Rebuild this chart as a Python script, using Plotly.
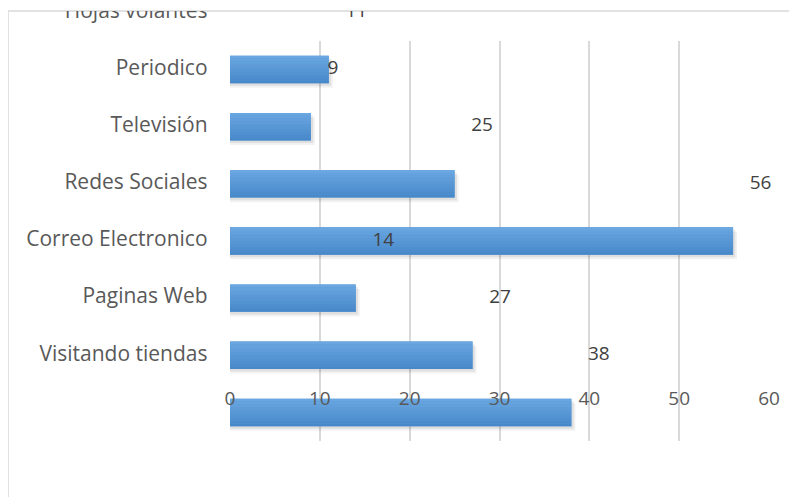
import plotly.graph_objects as go

categories = ["Hojas volantes", "Periodico", "Televisión", "Redes Sociales",
              "Correo Electronico", "Paginas Web", "Visitando tiendas"]
values = [11, 9, 25, 56, 14, 27, 38]
x_ticks = [0, 10, 20, 30, 40, 50, 60]

PAGE_OFF = 8  # default body margin of the html page
W, H = 797, 497
# target positions in screenshot pixels
border_left, border_top = 8, 11
paper_right = 797
plot_left, plot_right = 230, 769
plot_top, plot_bottom = 41, 441

ML = border_left - PAGE_OFF
MT = border_top - PAGE_OFF
MR = W - (paper_right - PAGE_OFF)
MB = H - (plot_bottom - PAGE_OFF)
paper_w = W - ML - MR
paper_h = H - MT - MB
x_min, x_max = 0, 60
px_per_unit = (plot_right - plot_left) / (x_max - x_min)
n = len(categories)
slot = (plot_bottom - plot_top) / n
x2_min = x_min - (plot_left - border_left) / px_per_unit
x2_max = x_max + (paper_right - plot_right) / px_per_unit
y2_top = -0.5 - (plot_top - border_top) / slot

slots = list(range(n))
label_slots = [i - 1 for i in slots]

BAR_W = 0.48


def bar(xs, color, width, offset):
    return go.Bar(x=xs, y=slots, orientation="h", width=width, offset=offset,
                  marker=dict(color=color, line=dict(width=0)),
                  hoverinfo="skip", showlegend=False, xaxis="x", yaxis="y")


fig = go.Figure()
# soft drop shadow
fig.add_trace(bar([v + 0.45 for v in values], "rgba(0,0,0,0.05)", BAR_W, -BAR_W / 2 + 0.08))
fig.add_trace(bar([v + 0.25 for v in values], "rgba(0,0,0,0.08)", BAR_W, -BAR_W / 2 + 0.045))
# solid base of each bar
fig.add_trace(bar(values, "#5597d6", BAR_W, -BAR_W / 2))
# smooth vertical gradient on top (style only)
top_rgb, bot_rgb = (106, 166, 224), (72, 137, 202)
STRIPS = 10
for k in range(STRIPS):
    t = k / (STRIPS - 1)
    c = tuple(round(a + (b - a) * t) for a, b in zip(top_rgb, bot_rgb))
    fig.add_trace(bar(values, "rgb(%d,%d,%d)" % c, BAR_W / STRIPS,
                      -BAR_W / 2 + k * BAR_W / STRIPS))

fig.add_trace(go.Scatter(
    x=[-2.5] * n, y=label_slots, mode="text", text=categories,
    textposition="middle left",
    textfont=dict(family="Open Sans", size=21, color="#595959"),
    cliponaxis=True, showlegend=False, hoverinfo="skip",
    xaxis="x2", yaxis="y2"))
fig.add_trace(go.Scatter(
    x=[v + 1.85 for v in values], y=label_slots, mode="text",
    text=[str(v) for v in values], textposition="middle right",
    textfont=dict(family="Open Sans", size=19, color="#404040"),
    cliponaxis=True, showlegend=False, hoverinfo="skip",
    xaxis="x2", yaxis="y2"))

fig.update_layout(
    width=W, height=H,
    margin=dict(l=ML, r=MR, t=MT, b=MB, pad=0, autoexpand=False),
    paper_bgcolor="white", plot_bgcolor="rgba(0,0,0,0)",
    barmode="overlay",
    xaxis=dict(domain=[(plot_left - border_left) / paper_w,
                       (plot_right - border_left) / paper_w],
               range=[x_min, x_max],
               tickvals=x_ticks, ticktext=[str(t) for t in x_ticks],
               showgrid=True, gridcolor="#d9d9d9", gridwidth=1.5,
               zeroline=False, showline=False, ticks="",
               ticklabelstandoff=-56,
               tickfont=dict(family="Open Sans", size=19, color="#595959"),
               anchor="y"),
    yaxis=dict(domain=[0, (plot_bottom - plot_top) / paper_h],
               range=[n - 0.5, -0.5], showgrid=False, zeroline=False,
               showticklabels=False, ticks="", anchor="x"),
    xaxis2=dict(domain=[0, 1], range=[x2_min, x2_max], visible=False,
                anchor="y2"),
    yaxis2=dict(domain=[0, 1], range=[n - 0.5, y2_top], visible=False,
                anchor="x2"),
    shapes=[dict(type="rect", xref="paper", yref="paper",
                 x0=0, x1=(paper_w + 30) / paper_w, y0=-(MB + 20) / paper_h, y1=1,
                 line=dict(color="#d9d9d9", width=1.5), fillcolor="rgba(0,0,0,0)",
                 layer="below")],
)

fig.write_html("out.html")
